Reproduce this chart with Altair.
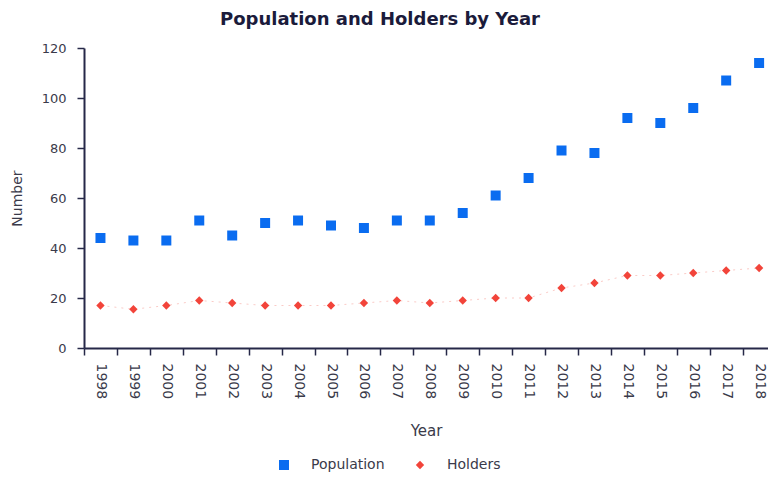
import altair as alt
import pandas as pd

years = list(range(1998, 2019))
population = [44, 43, 43, 51, 45, 50, 51, 49, 48, 51, 51, 54, 61, 68, 79, 78, 92, 90, 96, 107, 114]
holders = [17, 15.5, 17, 19, 18, 17, 17, 17, 18, 19, 18, 19, 20, 20, 24, 26, 29, 29, 30, 31, 32]
y_ticks = [0, 20, 40, 60, 80, 100, 120]
band_edges = [y - 0.5 for y in years]

rows = []
for yr, p, h in zip(years, population, holders):
    rows.append({"Year": yr, "Series": "Population", "Number": p})
    rows.append({"Year": yr, "Series": "Holders", "Number": h})
df = pd.DataFrame(rows)

axis_color = "#262848"
text_color = "#3a3a4a"
font = "DejaVu Sans"

x = alt.X("Year:Q", title="Year",
          scale=alt.Scale(domain=[1997.5, 2018.27], nice=False, zero=False),
          axis=alt.Axis(values=band_edges, labelExpr="toString(datum.value + 0.5)",
                        labelOffset=16.5, labelAngle=90, labelAlign="left", labelBaseline="middle",
                        labelFlush=False, labelOverlap=False, labelBound=False, grid=False,
                        tickSize=7, labelPadding=8, titlePadding=25, domainWidth=2, tickWidth=1.5,
                        domainColor=axis_color, tickColor=axis_color, labelColor=text_color,
                        titleColor=text_color, labelFontSize=14, titleFontSize=15,
                        titleFontWeight="normal", labelFont=font, titleFont=font))
y = alt.Y("Number:Q", title="Number",
          scale=alt.Scale(domain=[0, 120], nice=False),
          axis=alt.Axis(values=y_ticks, grid=False, tickSize=7, labelPadding=11,
                        titlePadding=17, domainWidth=2, tickWidth=1.5,
                        domainColor=axis_color, tickColor=axis_color, labelColor=text_color,
                        titleColor=text_color, labelFontSize=13, titleFontSize=14,
                        titleFontWeight="normal", labelFont=font, titleFont=font))

series = ["Population", "Holders"]
color = alt.Color("Series:N",
                  scale=alt.Scale(domain=series, range=["#0a6cf0", "#f2443a"]),
                  legend=alt.Legend(title=None, orient="none", direction="horizontal",
                                    legendX=193, legendY=410, labelFontSize=14, labelColor=text_color,
                                    labelFont=font, labelOffset=20, columnPadding=28,
                                    symbolOpacity=1))
shape = alt.Shape("Series:N", scale=alt.Scale(domain=series, range=["square", "diamond"]), legend=None)
size = alt.Size("Series:N", scale=alt.Scale(domain=series, range=[100, 70]), legend=None)

base = alt.Chart(df)

line = base.transform_filter(alt.datum.Series == "Holders").mark_line(
    color="#f6a8a2", strokeDash=[2, 5], strokeWidth=1, opacity=0.6
).encode(x=x, y=y)

pts = base.mark_point(filled=True, opacity=1, clip=False).encode(
    x=x, y=y, color=color, shape=shape, size=size,
)

chart = alt.layer(line, pts).properties(
    width=684, height=300,
    autosize=alt.AutoSizeParams(type="none"),
    padding={"left": 76, "top": 40, "right": 0, "bottom": 126},
    title=alt.TitleParams("Population and Holders by Year", font=font, fontSize=18, fontWeight="bold",
                          color="#1b1b3b", dx=-46, offset=13),
).configure(font=font).configure_view(stroke=None)

chart.save("out.html", embed_options={"renderer": "svg", "actions": False})
